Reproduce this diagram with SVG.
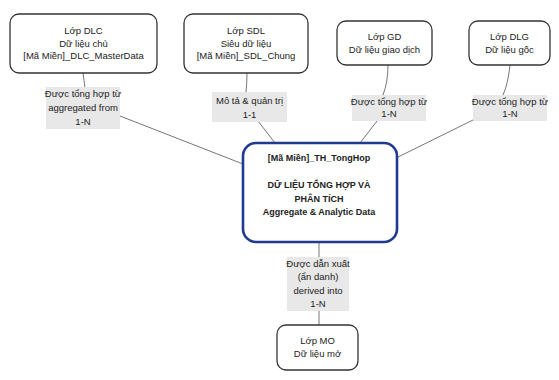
<svg xmlns="http://www.w3.org/2000/svg" width="559" height="380" viewBox="0 0 559 380">
<style>
text{font-family:"Liberation Sans",Arial,sans-serif;font-size:9.5px;fill:#222;text-anchor:middle}
.node rect{fill:#fff;stroke:#333;stroke-width:1.3}
.main rect{fill:#fff;stroke:#1f3a8f;stroke-width:2.6}
.main text{font-weight:bold;font-size:9px}
.lbl rect{fill:#e8e8e8;stroke:none}
.edges path{fill:none;stroke:#666;stroke-width:0.9}
</style>
<rect width="559" height="380" fill="#fff"/>
<g class="edges">
<path d="M83,73 Q84,80 85,88"/>
<path d="M120,116 L243,164"/>
<path d="M247,73 Q247,82 246,92"/>
<path d="M258,121 L275,143"/>
<path d="M388,65 Q388,82 383,95"/>
<path d="M377,121 L360,143"/>
<path d="M510,65 Q508,84 503,95"/>
<path d="M473,120 L396,158"/>
<path d="M319,242 L319,257"/>
<path d="M319,311 L319,325"/>
</g>
<g id="dlc" class="node"><rect x="10" y="14" width="147" height="59" rx="9"/>
<text x="83.5" y="34">Lớp DLC</text><text x="83.5" y="46.5">Dữ liệu chủ</text><text x="83.5" y="59">[Mã Miền]_DLC_MasterData</text></g>
<g id="sdl" class="node"><rect x="184" y="14" width="124" height="59" rx="9"/>
<text x="246" y="34">Lớp SDL</text><text x="246" y="46.5">Siêu dữ liệu</text><text x="246" y="59">[Mã Miền]_SDL_Chung</text></g>
<g id="gd" class="node"><rect x="337" y="21" width="95" height="44" rx="9"/>
<text x="384.5" y="40">Lớp GD</text><text x="384.5" y="52.5">Dữ liệu giao dịch</text></g>
<g id="dlg" class="node"><rect x="469" y="21" width="81" height="44" rx="9"/>
<text x="509.5" y="40">Lớp DLG</text><text x="509.5" y="52.5">Dữ liệu gốc</text></g>
<g id="th" class="main"><rect x="243" y="143" width="154" height="99" rx="13"/>
<text x="319" y="161">[Mã Miền]_TH_TongHop</text>
<text x="319" y="188">DỮ LIỆU TỔNG HỢP VÀ</text>
<text x="319" y="202">PHÂN TÍCH</text>
<text x="319" y="215">Aggregate &amp; Analytic Data</text></g>
<g id="mo" class="node"><rect x="277" y="325" width="81" height="45" rx="9"/>
<text x="317.5" y="344">Lớp MO</text><text x="317.5" y="357">Dữ liệu mở</text></g>
<g id="l1" class="lbl"><rect x="46" y="87" width="74" height="42"/>
<text x="83" y="97">Được tổng hợp từ</text><text x="83" y="111">aggregated from</text><text x="83" y="125">1-N</text></g>
<g id="l2" class="lbl"><rect x="212" y="92" width="75" height="30"/>
<text x="249.5" y="104">Mô tả &amp; quản trị</text><text x="249.5" y="118">1-1</text></g>
<g id="l3" class="lbl"><rect x="352" y="95" width="74" height="26"/>
<text x="389" y="105">Được tổng hợp từ</text><text x="389" y="117">1-N</text></g>
<g id="l4" class="lbl"><rect x="473" y="95" width="74" height="26"/>
<text x="510" y="105">Được tổng hợp từ</text><text x="510" y="117">1-N</text></g>
<g id="l5" class="lbl"><rect x="287" y="257" width="62" height="54"/>
<text x="318" y="267">Được dẫn xuất</text><text x="318" y="280">(ẩn danh)</text><text x="318" y="294">derived into</text><text x="318" y="307">1-N</text></g>
</svg>
